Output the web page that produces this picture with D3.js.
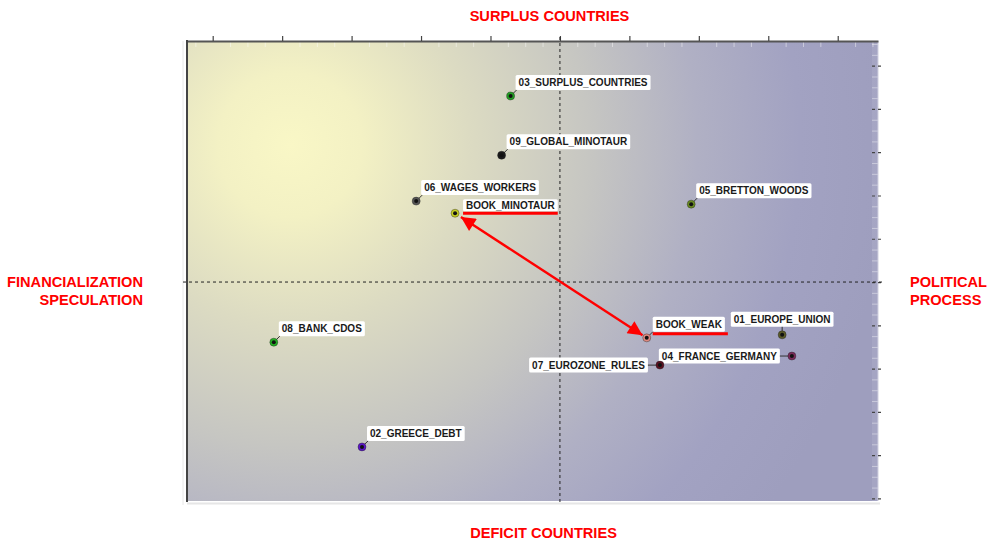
<!DOCTYPE html>
<html><head><meta charset="utf-8">
<script src="https://cdn.jsdelivr.net/npm/d3@7"></script>
<style>
html,body{margin:0;padding:0;background:#fff;}
svg{display:block;font-family:"Liberation Sans",Arial,sans-serif;}
</style></head>
<body>
<svg id="c" width="1000" height="559"></svg>
<script>
// ---- data ----
const names = ["03_SURPLUS_COUNTRIES","09_GLOBAL_MINOTAUR","06_WAGES_WORKERS","BOOK_MINOTAUR","05_BRETTON_WOODS","08_BANK_CDOS","02_GREECE_DEBT","BOOK_WEAK","01_EUROPE_UNION","04_FRANCE_GERMANY","07_EUROZONE_RULES"];
const xValues = [-0.71,-0.84,-2.07,-1.51,1.89,-4.12,-2.85,1.25,3.20,3.34,1.44];
const yValues = [4.30,2.93,1.87,1.59,1.80,-1.39,-3.81,-1.29,-1.22,-1.71,-1.92];
const dotColors = ["#22a022","#1a1a1a","#555555","#c8d020","#6a8c22","#22b022","#5a14c8","#e08a80","#5a5a28","#7a2a5a","#5a1020"];
const labelSide = ["ne","ne","ne","book","ne","ne","ne","bookw","n","w","w"];
const xTicks = [-5,-4,-3,-2,-1,0,1,2,3,4];
const yTicks = [-5,-4,-3,-2,-1,0,1,2,3,4,5];
const arrowFrom = "BOOK_MINOTAUR", arrowTo = "BOOK_WEAK";
const titleTop = "SURPLUS COUNTRIES", titleBottom = "DEFICIT COUNTRIES";
const titleLeft = ["FINANCIALIZATION","SPECULATION"], titleRight = ["POLITICAL","PROCESS"];

const L=187,R=878,T=41,B=501;
const x = d3.scaleLinear().domain([-5.37,4.58]).range([L,R]);
const y = d3.scaleLinear().domain([-5.06,5.57]).range([B,T]);
const svg = d3.select("#c");
const defs = svg.append("defs");
const rg = defs.append("radialGradient").attr("id","bg").attr("gradientUnits","userSpaceOnUse")
  .attr("cx",290).attr("cy",145).attr("r",600);
[[0,"#f9f7c6"],[0.12,"#f3f1c4"],[0.3,"#dcdbc2"],[0.5,"#c6c6c2"],[0.68,"#b0b0c4"],[0.85,"#a2a2c2"],[1,"#9e9ebe"]]
  .forEach(s=>rg.append("stop").attr("offset",s[0]).attr("stop-color",s[1]));
defs.append("marker").attr("id","ah").attr("viewBox","0 0 10 10").attr("refX",10).attr("refY",5)
  .attr("markerWidth",7).attr("markerHeight",6).attr("markerUnits","strokeWidth").attr("orient","auto-start-reverse")
  .append("path").attr("d","M0,0 L10,5 L0,10 z").attr("fill","#ff0000");

// shadow lines
svg.append("line").attr("x1",L).attr("x2",R+2).attr("y1",B+2.5).attr("y2",B+2.5).attr("stroke","#e6e6e6").attr("stroke-width",2);
svg.append("line").attr("x1",L-4).attr("x2",L-4).attr("y1",T).attr("y2",B+4).attr("stroke","#e8e8e8").attr("stroke-width",1);
// plot background
svg.append("rect").attr("x",L).attr("y",T).attr("width",R-L).attr("height",B-T).attr("fill","url(#bg)");
svg.append("rect").attr("x",R-6).attr("y",T).attr("width",6).attr("height",B-T).attr("fill","#ffffff").attr("opacity",0.08);

// minor ticks (top, inside)
const minorX = d3.range(-5.25,4.58,0.25).filter(v=>Math.abs(v-Math.round(v))>0.01);
const gmx = svg.append("g").attr("transform",`translate(0,${T})`).call(d3.axisBottom(x).tickValues(minorX).tickSize(6).tickSizeOuter(0).tickFormat(""));
gmx.select(".domain").remove();
gmx.selectAll("line").attr("stroke","#ffffff").attr("stroke-opacity",0.45);
// minor ticks right inside
const minorY = d3.range(-5,5.57,0.25).filter(v=>Math.abs(v-Math.round(v))>0.01);
const gmy = svg.append("g").attr("transform",`translate(${R},0)`).call(d3.axisLeft(y).tickValues(minorY).tickSize(6).tickSizeOuter(0).tickFormat(""));
gmy.select(".domain").remove();
gmy.selectAll("line").attr("stroke","#ffffff").attr("stroke-opacity",0.4);
svg.append("line").attr("x1",R).attr("x2",R).attr("y1",T).attr("y2",B).attr("stroke","#d0d0e0");

// top axis
const gx = svg.append("g").attr("transform",`translate(0,${T})`).call(d3.axisTop(x).tickValues(xTicks).tickSize(5).tickSizeOuter(0).tickFormat(""));
gx.select(".domain").attr("stroke","#555").attr("stroke-width",2);
gx.selectAll(".tick line").attr("stroke","#444").attr("stroke-width",1.2);
// right ticks
const gy = svg.append("g").attr("transform",`translate(${R-6},0)`).call(d3.axisRight(y).tickValues(yTicks).tickSize(10).tickSizeOuter(0).tickFormat(""));
gy.select(".domain").remove();
gy.selectAll(".tick line").attr("stroke","#444").attr("stroke-dasharray","3,3").attr("stroke-width",1.2);
// left axis line
svg.append("line").attr("x1",L).attr("x2",L).attr("y1",T-1).attr("y2",B+1).attr("stroke","#444").attr("stroke-width",2);

// quadrant dashed lines
svg.append("line").attr("x1",x(0)).attr("x2",x(0)).attr("y1",T-4).attr("y2",B+4)
  .attr("stroke","#222").attr("stroke-dasharray","3,3");
svg.append("line").attr("x1",L-4).attr("x2",R+4).attr("y1",y(0)).attr("y2",y(0))
  .attr("stroke","#222").attr("stroke-dasharray","3,3");

// arrow
const ia = names.indexOf(arrowFrom), ib = names.indexOf(arrowTo);
const ax1=x(xValues[ia]), ay1=y(yValues[ia]), ax2=x(xValues[ib]), ay2=y(yValues[ib]);
const len = Math.hypot(ax2-ax1, ay2-ay1), ux=(ax2-ax1)/len, uy=(ay2-ay1)/len;
svg.append("line").attr("x1",ax1+ux*7).attr("y1",ay1+uy*7).attr("x2",ax2-ux*5).attr("y2",ay2-uy*5)
  .attr("stroke","#ff0000").attr("stroke-width",2.4)
  .attr("marker-start","url(#ah)").attr("marker-end","url(#ah)");

// points and labels
const pts = names.map((n,i)=>({n, px:x(xValues[i]), py:y(yValues[i]), c:dotColors[i], side:labelSide[i]}));
const gl = svg.append("g");
pts.forEach(p=>{
  const g = gl.append("g");
  const t = g.append("text").text(p.n).attr("font-size",10).attr("font-weight","bold").attr("fill","#1a1a1a");
  const w = t.node().getComputedTextLength();
  const bw = w+6, bh=15;
  let bx, by, cx1, cy1, cx2, cy2;
  if(p.side==="ne"){ bx=p.px+5; by=p.py-6-bh; cx1=p.px+1; cy1=p.py-1; cx2=p.px+6; cy2=p.py-6; }
  else if(p.side==="n"){ bx=p.px-bw/2; by=p.py-8-bh; cx1=p.px; cy1=p.py; cx2=p.px; cy2=p.py-8; }
  else if(p.side==="w"){ bx=p.px-12-bw; by=p.py-bh/2; cx1=p.px; cy1=p.py; cx2=p.px-12; cy2=p.py; }
  else if(p.side==="book"){ bx=p.px+8; by=p.py-2-12; cx1=p.px; cy1=p.py; cx2=p.px; cy2=p.py; }
  else { bx=p.px+6; by=p.py-6-bh; cx1=p.px+1; cy1=p.py-1; cx2=p.px+6; cy2=p.py-6; }
  const bH = (p.side==="book")?12:bh;
  g.insert("rect","text").attr("x",bx).attr("y",by).attr("width",bw).attr("height",bH).attr("rx",1.5).attr("fill","#ffffff");
  t.attr("x",bx+3).attr("y",by+bH/2+3.6);
  g.append("line").attr("x1",cx1).attr("y1",cy1).attr("x2",cx2).attr("y2",cy2).attr("stroke","#333").attr("stroke-width",1);
  if(p.side==="book"||p.side==="bookw"){
    g.append("line").attr("x1",bx).attr("x2",bx+bw+ (p.side==="bookw"?3:0)).attr("y1",by+bH+2).attr("y2",by+bH+2)
      .attr("stroke","#ff0000").attr("stroke-width",3);
  }
  g.append("circle").attr("cx",p.px).attr("cy",p.py).attr("r",4).attr("fill",p.c).attr("stroke","#222").attr("stroke-width",0.4);
  g.append("circle").attr("cx",p.px).attr("cy",p.py).attr("r",2).attr("fill","#111");
});

// titles
const red="#ff0000";
svg.append("text").attr("x",549.5).attr("y",21).attr("text-anchor","middle").attr("font-size",14.6).attr("font-weight","bold").attr("fill",red).text(titleTop);
svg.append("text").attr("x",543.5).attr("y",538).attr("text-anchor","middle").attr("font-size",14.6).attr("font-weight","bold").attr("fill",red).text(titleBottom);
titleLeft.forEach((s,i)=>svg.append("text").attr("x",143).attr("y",287+i*18).attr("text-anchor","end").attr("font-size",14.6).attr("font-weight","bold").attr("fill",red).text(s));
titleRight.forEach((s,i)=>svg.append("text").attr("x",910).attr("y",287+i*18).attr("text-anchor","start").attr("font-size",14.6).attr("font-weight","bold").attr("fill",red).text(s));
</script>
</body></html>
